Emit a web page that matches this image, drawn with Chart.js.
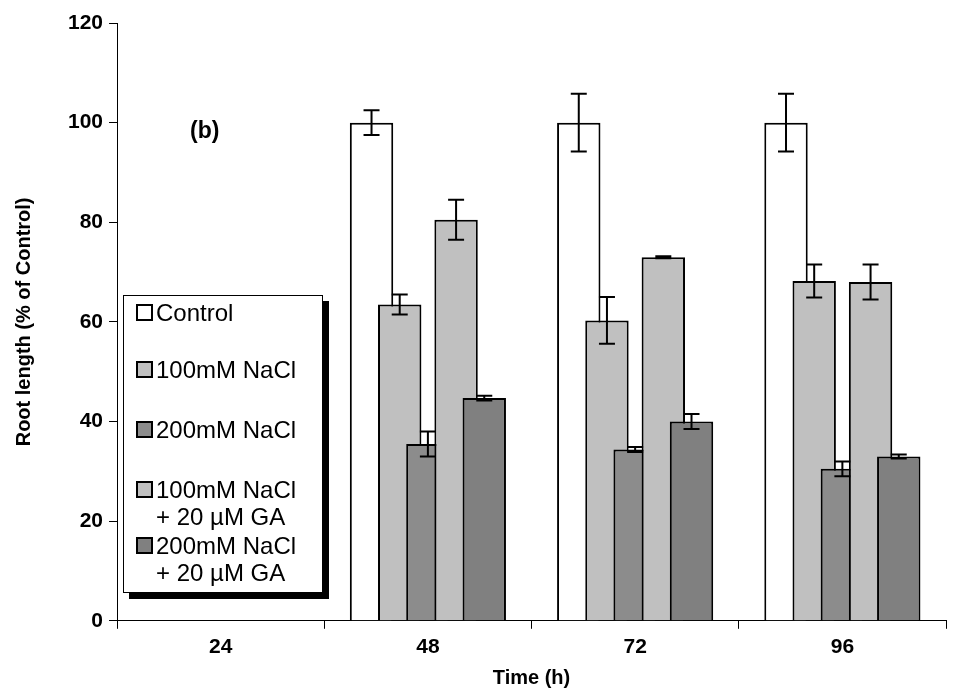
<!DOCTYPE html>
<html><head><meta charset="utf-8">
<script src="https://cdn.jsdelivr.net/npm/chart.js@4/dist/chart.umd.min.js"></script>
<style>
body{margin:0;background:#fff;font-family:"Liberation Sans",Arial,sans-serif}
#wrap{position:relative;width:968px;height:698px}
#legend{position:absolute;left:123px;top:295px;width:198px;height:296px;border:1px solid #000;background:#fff;box-shadow:6px 6px 0 #000;font-size:24px;line-height:27px}
.it{position:absolute;left:12px;white-space:nowrap}
.sw{display:inline-block;width:13px;height:13px;border:2px solid #000;margin-right:3px;vertical-align:0px}
</style></head>
<body><div id="wrap"><canvas id="c" width="968" height="698"></canvas>
<div id="legend"></div></div>
<script>
const categories = ["24", "48", "72", "96"];
const seriesNames = ["Control", "100mM NaCl", "200mM NaCl", "100mM NaCl|+ 20 µM GA", "200mM NaCl|+ 20 µM GA"];
const control = [0, 100, 100, 100];
const na100 = [0, 63.5, 60.3, 68.2];
const na200 = [0, 35.5, 34.4, 30.5];
const na100ga = [0, 80.5, 73, 68];
const na200ga = [0, 44.7, 40, 33];
const errControl = [0, 2.5, 5.8, 5.8];
const errNa100 = [0, 2, 4.7, 3.3];
const errNa200 = [0, 2.5, 0.5, 1.5];
const errNa100ga = [0, 4, 0.2, 3.5];
const errNa200ga = [0, 0.5, 1.5, 0.4];
const colors = ["#ffffff", "#c0c0c0", "#8c8c8c", "#c0c0c0", "#808080"];
const allData = [control, na100, na200, na100ga, na200ga];
const allErr = [errControl, errNa100, errNa200, errNa100ga, errNa200ga];

const legend = document.getElementById("legend");
const tops = [3, 60, 120, 180, 236];
seriesNames.forEach((n, i) => {
  const parts = n.split("|");
  const d = document.createElement("div");
  d.className = "it"; d.style.top = tops[i] + "px";
  d.innerHTML = '<span class="sw" style="background:' + colors[i] + '"></span>' + parts[0] +
    (parts[1] ? '<br><span style="padding-left:20px">' + parts[1] + '</span>' : '');
  legend.appendChild(d);
});

// overlapping bars: draw left to right so each bar covers the one before it
const overlapDraw = {
  id: "overlapDraw",
  beforeDatasetsDraw(chart) {
    chart.data.datasets.forEach((ds, i) => chart.getDatasetMeta(i).controller.draw());
    return false;
  },
  afterDraw(chart) {
    const ctx = chart.ctx, y = chart.scales.y;
    ctx.save(); ctx.strokeStyle = "#000"; ctx.lineWidth = 2;
    chart.data.datasets.forEach((ds, di) => {
      chart.getDatasetMeta(di).data.forEach((bar, i) => {
        const e = allErr[di][i]; if (!e) return;
        const v = ds.data[i], x = bar.x;
        const t = y.getPixelForValue(v + e), b = y.getPixelForValue(v - e);
        ctx.beginPath();
        ctx.moveTo(x, t); ctx.lineTo(x, b);
        ctx.moveTo(x - 8, t); ctx.lineTo(x + 8, t);
        ctx.moveTo(x - 8, b); ctx.lineTo(x + 8, b);
        ctx.stroke();
      });
    });
    ctx.font = "bold 23px 'Liberation Sans'"; ctx.fillStyle = "#000";
    ctx.fillText("(b)", 190, 138);
    ctx.restore();
  }
};

const tickFont = { size: 21, weight: "bold", family: "Liberation Sans" };
new Chart(document.getElementById("c"), {
  type: "bar",
  data: {
    labels: categories,
    datasets: allData.map((d, i) => ({
      label: seriesNames[i], data: d, backgroundColor: colors[i],
      borderColor: "#000", borderWidth: 2,
      categoryPercentage: 0.68, barPercentage: 1.54
    }))
  },
  options: {
    responsive: false, animation: false,
    layout: { padding: { top: 23, right: 22, left: 4, bottom: 8 } },
    plugins: { legend: { display: false }, tooltip: { enabled: false } },
    scales: {
      x: {
        grid: { display: true, drawOnChartArea: false, offset: true, color: "#000", tickLength: 8 },
        border: { color: "#000", width: 1 },
        ticks: { color: "#000", font: tickFont, padding: 6 },
        title: { display: true, text: "Time (h)", color: "#000", padding: 0, font: { size: 20, weight: "bold", family: "Liberation Sans" } }
      },
      y: {
        min: 0, max: 120,
        grid: { drawOnChartArea: false, color: "#000", tickLength: 8 },
        border: { color: "#000", width: 1 },
        ticks: { stepSize: 20, color: "#000", font: tickFont, padding: 6 },
        title: { display: true, text: "Root length (% of Control)", color: "#000", padding: { top: 8, bottom: 26 }, font: { size: 20, weight: "bold", family: "Liberation Sans" } }
      }
    }
  },
  plugins: [overlapDraw]
});
</script></body></html>
